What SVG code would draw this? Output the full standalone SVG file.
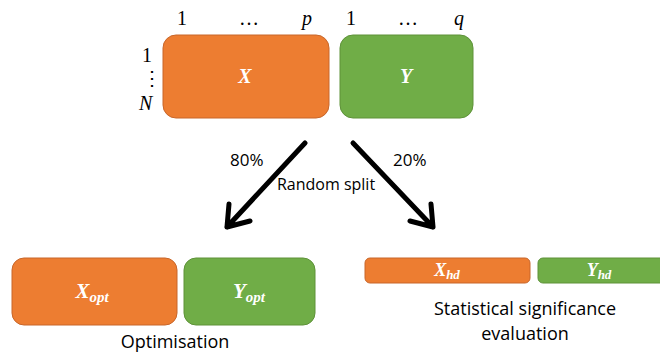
<svg xmlns="http://www.w3.org/2000/svg" width="660" height="354" viewBox="0 0 660 354">
<style>
.or{fill:#ED7D31;stroke:#C8662A;stroke-width:1}
.gr{fill:#70AD47;stroke:#5E9239;stroke-width:1}
.m{font-family:"Liberation Serif",serif;font-style:italic;fill:#000;font-size:20px}
.n{font-family:"Liberation Serif",serif;fill:#000;font-size:20px}
.w{font-family:"Liberation Serif",serif;font-style:italic;font-weight:bold;fill:#fff;text-anchor:middle}
.s{font-family:"Open Sans","Liberation Sans",sans-serif;fill:#000}
.arr{stroke:#000;stroke-width:5;fill:none;stroke-linecap:round;stroke-linejoin:round}
</style>
<g id="labels">
<text class="n" x="177" y="25">1</text>
<text class="n" x="239" y="25">…</text>
<text class="m" x="302" y="25">p</text>
<text class="n" x="346" y="25">1</text>
<text class="n" x="398" y="25">…</text>
<text class="m" x="454" y="25">q</text>
<text class="n" x="142" y="62">1</text>
<text class="n" x="142" y="85">⋮</text>
<text class="m" x="139" y="110">N</text>
</g>
<g id="X">
<rect class="or" x="163" y="35" width="166" height="83" rx="13"/>
<text class="w" x="245" y="83" font-size="20">X</text>
</g>
<g id="Y">
<rect class="gr" x="340" y="35" width="133" height="83" rx="13"/>
<text class="w" x="406" y="83" font-size="20">Y</text>
</g>
<g id="connectors">
<path class="arr" d="M305,143 L227,227 M229,204 L227,227 L250,221"/>
<path class="arr" d="M353,143 L433,227 M431,204 L433,227 L410,221"/>
<text class="s" x="230" y="166" font-size="17">80%</text>
<text class="s" x="393" y="166" font-size="17">20%</text>
<text class="s" x="326" y="190" font-size="16" text-anchor="middle">Random split</text>
</g>
<g id="Xopt">
<rect class="or" x="12" y="258" width="165" height="67" rx="12"/>
<text class="w" x="92" y="298" font-size="21">X<tspan font-size="15" dy="4">opt</tspan></text>
</g>
<g id="Yopt">
<rect class="gr" x="184" y="258" width="131" height="67" rx="12"/>
<text class="w" x="249" y="298" font-size="21">Y<tspan font-size="15" dy="4">opt</tspan></text>
</g>
<text class="s" x="175" y="348" font-size="18" text-anchor="middle">Optimisation</text>
<g id="Xhd">
<rect class="or" x="365" y="258" width="165" height="25" rx="5"/>
<text class="w" x="447" y="276" font-size="18">X<tspan font-size="13" dy="3">hd</tspan></text>
</g>
<g id="Yhd">
<rect class="gr" x="538" y="258" width="130" height="25" rx="5"/>
<text class="w" x="599" y="276" font-size="18">Y<tspan font-size="13" dy="3">hd</tspan></text>
</g>
<text class="s" x="525" y="315" font-size="18" text-anchor="middle">Statistical significance</text>
<text class="s" x="525" y="340" font-size="18" text-anchor="middle">evaluation</text>
</svg>
